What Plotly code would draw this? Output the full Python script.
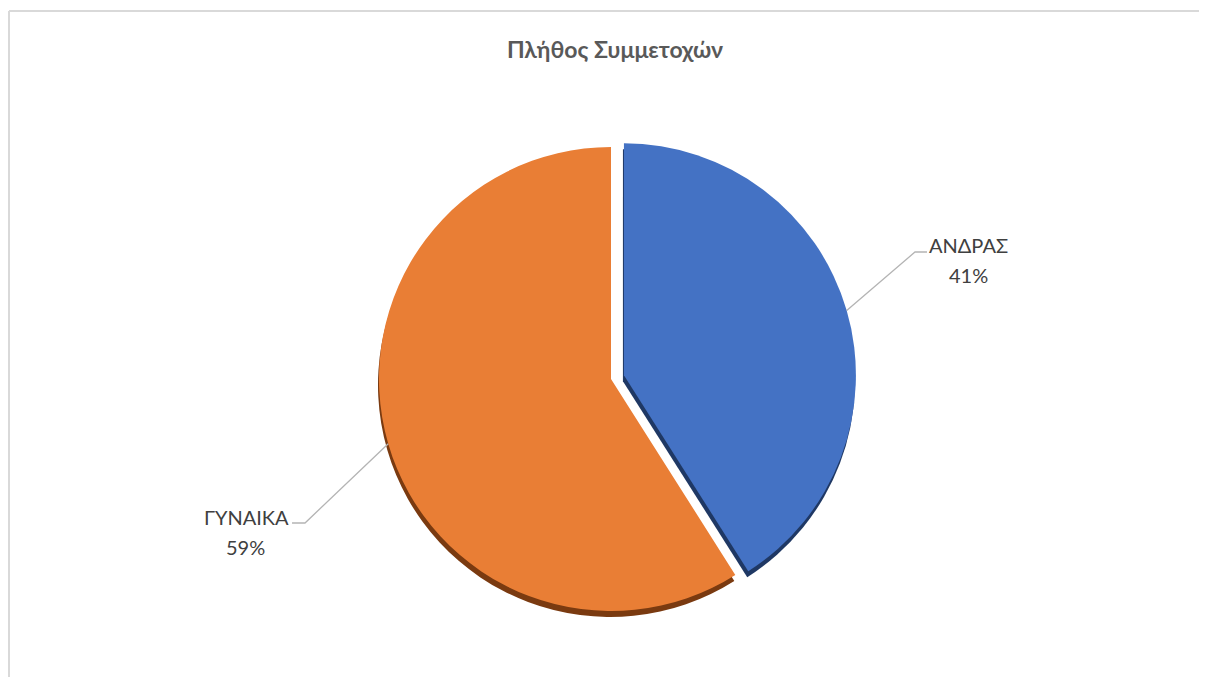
import math
import plotly.graph_objects as go

# ---------------- data ----------------
categories = ["ΑΝΔΡΑΣ", "ΓΥΝΑΙΚΑ"]
values = [41, 59]
pct_labels = ["41%", "59%"]
title_text = "Πλήθος Συμμετοχών"

# ---------------- style / layout ----------------
colors = ["#4472C4", "#E97E35"]
shadow_colors = ["#1F3864", "#7A3A10"]
PAGE_W, PAGE_H = 1210, 687
BODY = 8                    # default page body margin
W, H = PAGE_W - 2 * BODY, PAGE_H - 2 * BODY - 2
CX, CY = 611, 379           # pie centre in page pixels
R = 232                     # pie radius in pixels
PULL = 0.058
pulls = [PULL, 0]
SH_DX, SH_DY = -1, 6        # shadow offset in pixels
FONT = "Lato"
TEXT_COLOR = "#404040"
LINE_COLOR = "#B4B4B4"

# label placement (page pixels): elbow of leader, end of leader, name centre, pct centre
label_layout = {
    "ΑΝΔΡΑΣ": dict(elbow=(915, 252), end=(927, 252), name=(969, 245), pct=(968, 275)),
    "ΓΥΝΑΙΚΑ": dict(elbow=(305, 523), end=(292, 523), name=(247, 517), pct=(245, 547)),
}


def px(x, y):
    return (x - BODY) / W, 1 - (y - BODY) / H


def domain(cx, cy):
    half = R * (1 + max(pulls))
    x0, y1 = px(cx - half, cy - half)
    x1, y0 = px(cx + half, cy + half)
    return dict(x=[x0, x1], y=[y0, y1])


fig = go.Figure()

# shadow / thickness layer
fig.add_trace(go.Pie(
    labels=categories, values=values, sort=False, direction="clockwise", rotation=0,
    pull=pulls, marker=dict(colors=shadow_colors, line=dict(width=0)),
    textinfo="none", hoverinfo="skip", showlegend=False,
    domain=domain(CX + SH_DX, CY + SH_DY),
))

# main pie
fig.add_trace(go.Pie(
    labels=categories, values=values, sort=False, direction="clockwise", rotation=0,
    pull=pulls, marker=dict(colors=colors, line=dict(width=0)),
    textinfo="none", hoverinfo="label+percent", showlegend=False,
    domain=domain(CX, CY),
))

shapes = []
annotations = []

# border of chart area
bx0, by0 = px(9, 11)
bx1, _ = px(1199, 11)
shapes.append(dict(type="line", xref="paper", yref="paper", x0=bx0, y0=by0, x1=bx0, y1=0,
                   line=dict(color="#D9D9D9", width=2)))
shapes.append(dict(type="line", xref="paper", yref="paper", x0=bx0, y0=by0, x1=bx1, y1=by0,
                   line=dict(color="#D9D9D9", width=2)))

# leader lines + labels computed from slice angles
total = sum(values)
start = 0.0
for cat, v, pct, p in zip(categories, values, pct_labels, pulls):
    frac = v / total
    mid = (start + frac / 2) * 2 * math.pi
    start += frac
    dx, dy = math.sin(mid), -math.cos(mid)
    ox, oy = CX + dx * R * p, CY + dy * R * p
    ax, ay = ox + dx * R, oy + dy * R
    lay = label_layout[cat]
    pts = [px(ax, ay), px(*lay["elbow"]), px(*lay["end"])]
    path = "M " + " L ".join(f"{x:.5f},{y:.5f}" for x, y in pts)
    shapes.append(dict(type="path", xref="paper", yref="paper", path=path,
                       line=dict(color=LINE_COLOR, width=1.3)))
    for txt, key in ((cat, "name"), (pct, "pct")):
        x, y = px(*lay[key])
        annotations.append(dict(text=txt, x=x, y=y, xref="paper", yref="paper",
                                xanchor="center", yanchor="middle", showarrow=False,
                                font=dict(family=FONT, size=20, color=TEXT_COLOR)))

# title
tx, ty = px(615, 49)
annotations.append(dict(text=f"<b>{title_text}</b>", x=tx, y=ty, xref="paper", yref="paper",
                        xanchor="center", yanchor="middle", showarrow=False,
                        font=dict(family=FONT, size=23, color="#595959")))

fig.update_layout(
    width=W, height=H,
    margin=dict(l=0, r=0, t=0, b=0),
    paper_bgcolor="white", plot_bgcolor="white",
    shapes=shapes, annotations=annotations,
    showlegend=False,
)

fig.write_html("out.html")
